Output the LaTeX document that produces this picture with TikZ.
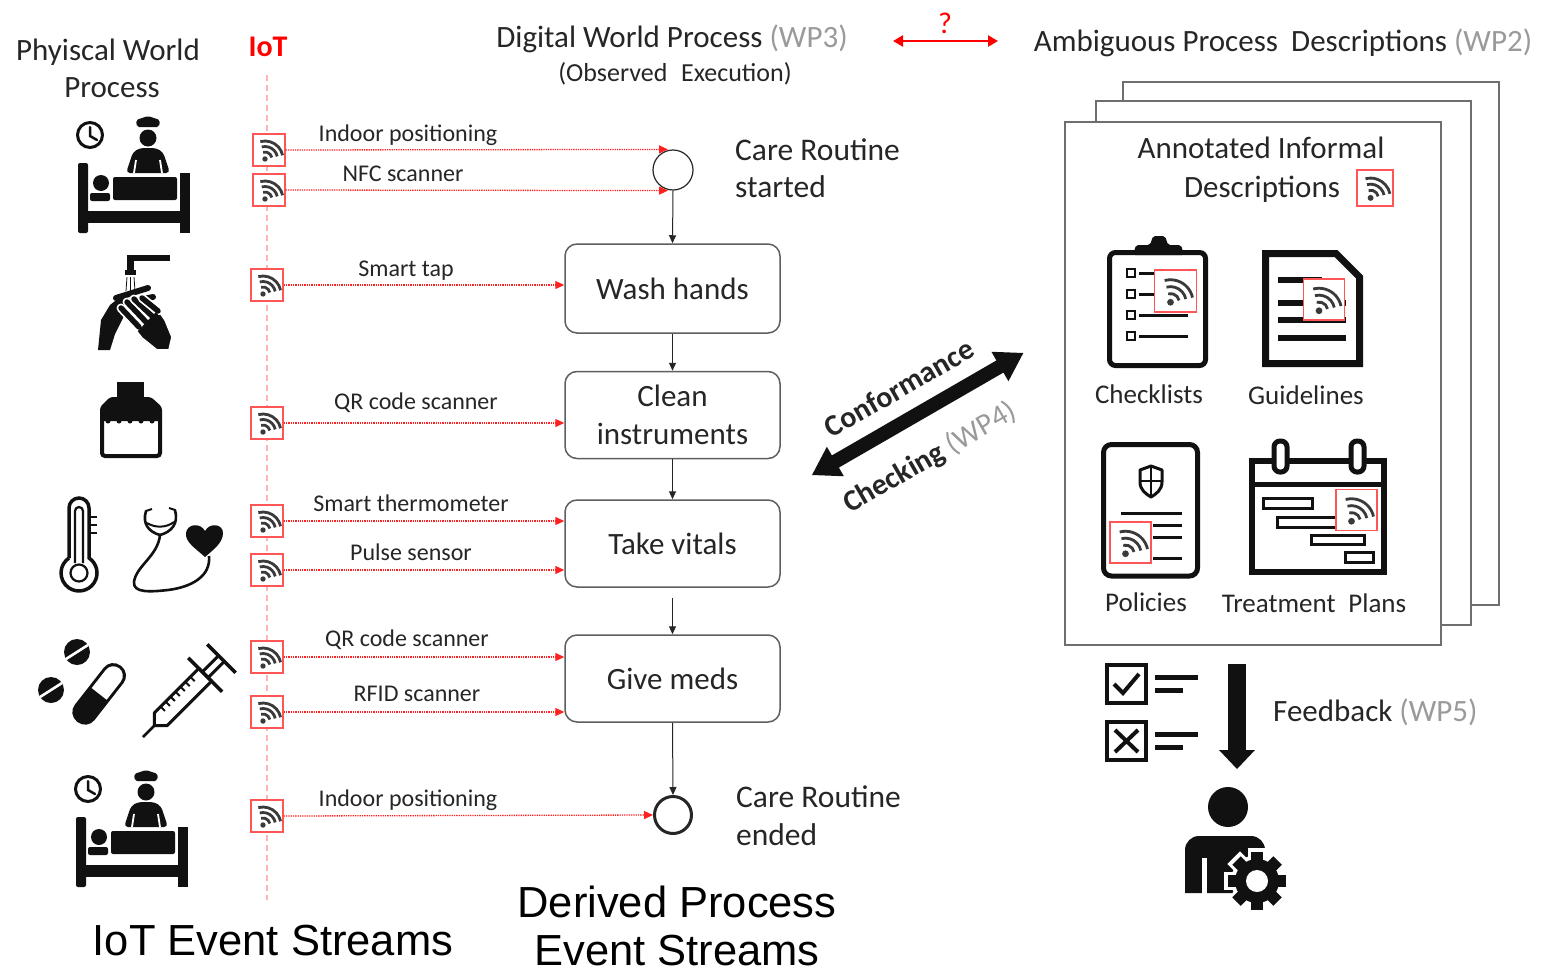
\documentclass[tikz,border=0pt]{standalone}
\usepackage{fontspec}
\setmainfont{Carlito}
\newfontfamily\arialfam{Liberation Sans}
\usetikzlibrary{arrows.meta,calc}

\definecolor{ink}{HTML}{262626}
\definecolor{wpgray}{HTML}{9A9A9A}
\definecolor{sred}{HTML}{FF5555}
\definecolor{ared}{HTML}{FF2020}
\definecolor{iotline}{HTML}{FFB4B4}
\definecolor{boxgray}{HTML}{5E5E5E}
\definecolor{pagegray}{HTML}{6E6E6E}
\definecolor{icon}{HTML}{111111}
\definecolor{wifigray}{HTML}{3A3A3A}

\tikzset{
  fs/.style={font=\fontsize{#1}{#1}\selectfont},
  lbl/.style={inner sep=0pt, text=ink, anchor=base},
  sensor/.style={draw=sred, line width=1.4pt, fill=white, minimum size=32pt, inner sep=0pt},
  task/.style={draw=boxgray, line width=1.5pt, rounded corners=12pt, minimum width=215pt,
    minimum height=87pt, align=center, text=ink, font=\fontsize{31}{38}\selectfont},
  event/.style={circle, draw=ink, minimum size=40pt, inner sep=0pt},
  sig/.style={ared, densely dotted, line width=1.3pt, -{Triangle[length=9pt,width=8pt]}},
  flow/.style={ink, line width=1pt, -{Triangle[length=8pt,width=7pt]}},
  page/.style={draw=pagegray, line width=1.5pt, fill=white},
  wifi/.pic={
    \fill[wifigray] (-4,9) circle (2.7);
    \foreach \r in {7,12.5,18}
      \draw[wifigray, line width=2.8pt, shift={(-4,9)}] (-12:\r) arc[start angle=-12, end angle=-105, radius=\r];
  },
  bedicon/.pic={
    % clock
    \draw[icon, line width=3pt] (90,135) circle (12.5);
    \draw[icon, line width=2.5pt, line cap=round] (90,127) -- (90,136) -- (97,140);
    % nurse
    \fill[icon, rounded corners=2pt] (137,127) -- (136,120) -- (148,116) -- (160,120) -- (159,127) -- cycle;
    \fill[icon] (148,138) circle (8.5);
    \fill[icon, rounded corners=4pt] (126,173) -- (133,152) -- (140,148) -- (156,148) -- (163,152) -- (170,173) -- cycle;
    \draw[white, line width=1.8pt] (136,160) -- (134,173) (160,160) -- (162,173);
    % bed and patient
    \fill[icon, rounded corners=2pt] (78,163) rectangle (88,233);
    \fill[icon] (180,173) rectangle (190,233);
    \fill[icon] (78,211) rectangle (190,223);
    \fill[icon, rounded corners=2pt] (113,177) rectangle (177,200);
    \fill[icon] (101,183) circle (8);
    \fill[icon, rounded corners=2pt] (90,193) rectangle (110,201);
  },
}

\newcommand\sensornode[3]{\node[sensor] (#1) at (#2,#3) {}; \pic at (#1) {wifi};}

\begin{document}
\begin{tikzpicture}[x=1pt,y=-1pt]
\fill[white] (0,0) rectangle (1551,972);
\useasboundingbox (0,0) rectangle (1551,972);

% ---------- headings ----------
\node[lbl, fs=31] (physA) at (108,60) {Phyiscal World};
\node[lbl, fs=31] (physB) at (112,97) {Process};
\node[lbl, text=red, font=\fontsize{30}{30}\selectfont\bfseries] (iot) at (268,56) {IoT};
\node[lbl, fs=31] (dwp) at (672,47) {Digital World Process \textcolor{wpgray}{(WP3)}};
\node[lbl, fs=26] (obs) at (675,81) {(Observed\hspace{0.3em} Execution)};
\node[lbl, fs=31] (amb) at (1283,51) {Ambiguous Process\hspace{0.2em} Descriptions \textcolor{wpgray}{(WP2)}};
\coordinate (qa) at (893,41);
\coordinate (qb) at (998,41);
\draw[red, line width=2.5pt, {Triangle[length=10pt,width=11pt]}-{Triangle[length=10pt,width=11pt]}] (qa) -- (qb);
\node[lbl, fs=30, text=red] (qm) at (945,33) {?};

% ---------- IoT lane ----------
\coordinate (iottop) at (267,75);
\coordinate (iotbot) at (267,900);
\draw[iotline, line width=1.2pt, dash pattern=on 6pt off 4pt] (iottop) -- (iotbot);

\sensornode{s1}{269}{150}
\sensornode{s2}{269}{190}
\sensornode{s3}{267}{285}
\sensornode{s4}{267}{423}
\sensornode{s5}{267}{521}
\sensornode{s6}{267}{570}
\sensornode{s7}{267}{657}
\sensornode{s8}{267}{712}
\sensornode{s9}{267}{816}

% ---------- derived process ----------
\node[event, line width=1.2pt] (start) at (673,170) {};
\node[task, minimum height=89pt] (wash) at (672.5,288.5) {Wash hands};
\node[task] (clean) at (672.5,415) {Clean\\instruments};
\node[task] (vitals) at (672.5,543.5) {Take vitals};
\node[task] (meds) at (672.5,678.5) {Give meds};
\node[event, line width=3pt, minimum size=37pt] (end) at (673,815) {};

\draw[flow] (start.south) -- (wash.north);
\draw[flow] (wash.south) -- (clean.north);
\draw[flow] (clean.south) -- (vitals.north);
\draw[flow] ([yshift=-10pt]vitals.south) -- (meds.north);
\draw[flow] (meds.south) -- (end.north);

\draw[sig] (s1.east) -- ([xshift=-5pt]start.north);
\draw[sig] (s2.east) -- ([xshift=-5pt]start.south);
\draw[sig] (s3.east) -- (s3.east -| wash.west);
\draw[sig] (s4.east) -- (s4.east -| clean.west);
\draw[sig] (s5.east) -- (s5.east -| vitals.west);
\draw[sig] (s6.east) -- (s6.east -| vitals.west);
\draw[sig] (s7.east) -- (s7.east -| meds.west);
\draw[sig] (s8.east) -- (s8.east -| meds.west);
\draw[sig] (s9.east) -- (end.west);

\node[lbl, fs=24] (l1) at (408,141) {Indoor positioning};
\node[lbl, fs=24] (l2) at (403,181) {NFC scanner};
\node[lbl, fs=24] (l3) at (406,276) {Smart tap};
\node[lbl, fs=24] (l4) at (416,409) {QR code scanner};
\node[lbl, fs=24] (l5) at (411,511) {Smart thermometer};
\node[lbl, fs=24] (l6) at (411,560) {Pulse sensor};
\node[lbl, fs=24] (l7) at (407,646) {QR code scanner};
\node[lbl, fs=24] (l8) at (417,701) {RFID scanner};
\node[lbl, fs=24] (l9) at (408,806) {Indoor positioning};

\node[lbl, fs=31.5, anchor=base west] (cra) at (735,160) {Care Routine};
\node[lbl, fs=31.5, anchor=base west] (crb) at (735,197) {started};
\node[lbl, fs=31.5, anchor=base west] (cea) at (736,807) {Care Routine};
\node[lbl, fs=31.5, anchor=base west] (ceb) at (736,845) {ended};

\node[lbl, text=black, font=\arialfam\fontsize{43.5}{43.5}\selectfont] (iotes) at (273,955) {IoT Event Streams};
\node[lbl, text=black, font=\arialfam\fontsize{43.5}{43.5}\selectfont] (dpa) at (677,917) {Derived Process};
\node[lbl, text=black, font=\arialfam\fontsize{43.5}{43.5}\selectfont] (dpb) at (677,965) {Event Streams};

% ---------- physical world icons ----------
\pic at (0,0) {bedicon};
\pic at (-2,654) {bedicon};

% hand washing: tap with running water
\fill[icon] (127,255) rectangle (170,261);
\fill[icon] (127,255) rectangle (134,271);
\fill[icon] (125,270) rectangle (136,275);
\draw[icon, line width=0.8pt] (127,277) -- (126,291) (130.5,277) -- (130.5,293) (134,277) -- (135,291);
% back hand, fingers to the right
\fill[icon] (98,350) -- (101,320) -- (110,305) -- (124,294) -- (131,300) -- (123,318) -- (115,334) -- (110,350) -- cycle;
\foreach \a/\b in {{(116,298)}/{(148,288)}, {(119,304)}/{(153,297)}, {(122,310)}/{(150,306)}}
  \draw[icon, line width=6pt, line cap=round] \a -- \b;
% front hand, fingers up to the left
\fill[icon, draw=white, line width=1.6pt] (134,328) -- (156,307) -- (165,320) -- (172,337) -- (169,350) -- (157,350) -- (142,338) -- cycle;
\foreach \a/\b in {{(121,308)}/{(139,327)}, {(127,302)}/{(146,322)}, {(134,299)}/{(152,316)}, {(142,298)}/{(158,311)}}
  {\draw[white, line width=9pt, line cap=round] \a -- \b;
   \draw[icon, line width=5.5pt, line cap=round] \a -- \b;}
\fill[icon] (138,331) -- (156,312) -- (164,322) -- (170,338) -- (167,348) -- (158,348) -- (144,337) -- cycle;

% bottle
\fill[icon] (117,382) rectangle (144,397);
\fill[icon, rounded corners=3pt] (100,421) -- (100,407) -- (110,397) -- (151,397) -- (162,407) -- (162,421) -- cycle;
\foreach \xx in {108,119,...,154} \fill[icon] (\xx,421) circle (2.5);
\draw[icon, line width=4pt, rounded corners=3pt] (102,418) -- (102,456) -- (160,456) -- (160,418);

% thermometer
\draw[icon, line width=3.5pt] (69,558) -- (69,508) arc[start angle=180, end angle=360, radius=10]
  -- (89,558) arc[start angle=-56.3, end angle=236.3, radius=18];
\draw[icon, line width=2.2pt] (75,563) -- (75,511) arc[start angle=180, end angle=360, radius=4] -- (83,563);
\draw[icon, line width=2.2pt] (79,573) circle (8.5);
\draw[icon, line width=2.5pt] (89,517) -- (97,517) (89,525) -- (97,525) (89,533) -- (97,533);

% stethoscope and heart
\draw[icon, line width=2.6pt, line cap=round] (146,511) .. controls (142,524) and (149,532) .. (160,535);
\draw[icon, line width=2.6pt, line cap=round] (175,510) .. controls (179,524) and (171,532) .. (160,535);
\draw[icon, line width=2pt] (146,511) -- (152,509) (175,510) -- (169,508);
\draw[icon, line width=2pt] (147,523) .. controls (155,528) and (166,528) .. (174,522);
\draw[icon, line width=2.6pt] (160,535) .. controls (158,556) and (136,566) .. (134,582)
  .. controls (133,593) and (150,592) .. (168,590) .. controls (192,587) and (211,576) .. (209,556);
\fill[icon] (205,557) .. controls (195,548) and (185,542) .. (186,533) .. controls (187,524) and (200,522) .. (205,531)
  .. controls (210,522) and (223,524) .. (223,533) .. controls (223,543) and (213,550) .. (205,557) -- cycle;

% pills
\fill[icon] (77,652) circle (13);
\draw[white, line width=2.6pt] (66,659) -- (88,645);
\fill[icon] (51,690) circle (13);
\draw[white, line width=2.6pt] (40,697) -- (62,683);
\begin{scope}[shift={(85,712)}, rotate=52]
  \fill[icon, rounded corners=12pt] (-12.5,-12.5) rectangle (58.5,12.5);
  \fill[white] (23,-9.5) -- (46,-9.5) arc[start angle=-90, end angle=90, radius=9.5] -- (23,9.5) -- cycle;
\end{scope}

% syringe
\begin{scope}[shift={(143,737)}, rotate=45]
  \draw[icon, line width=2.5pt] (0,0) -- (16,0);
  \draw[icon, line width=3pt, line join=round] (16,0) -- (25,-9) -- (88,-9) -- (88,9) -- (25,9) -- cycle;
  \foreach \t in {34,41,...,76} \draw[icon, line width=2pt] (\t,-9) -- (\t,-3);
  \draw[icon, line width=3.5pt] (88,-24) -- (88,24);
  \draw[icon, line width=3pt] (88,-4) -- (111,-4) (88,4) -- (111,4);
  \draw[icon, line width=3.5pt] (111,-20) -- (111,20);
\end{scope}

% ---------- conformance checking ----------
\begin{scope}[shift={(812,475)}, rotate=30]
  \fill[icon] (0,0) -- (27,-17) -- (27,-7) -- (217,-7) -- (217,-17) -- (244,0) -- (217,17)
    -- (217,7) -- (27,7) -- (27,17) -- cycle;
\end{scope}
\node[inner sep=0pt, text=ink, font=\fontsize{30}{30}\selectfont\bfseries, rotate=30] (conf) at (899,388) {Conformance};
\node[inner sep=0pt, text=ink, font=\fontsize{30}{30}\selectfont\bfseries, rotate=30] (chk) at (930,458) {Checking \textcolor{wpgray}{\mdseries(WP4)}};

% ---------- process descriptions ----------
\draw[page] (1123,82) rectangle (1499,605);
\draw[page] (1096,101) rectangle (1471,625);
\draw[page] (1065,122) rectangle (1441,645);

\node[lbl, fs=31] (anna) at (1261,158) {Annotated Informal};
\node[lbl, fs=31] (annb) at (1262,197) {Descriptions};
\node[sensor, minimum size=36pt, line width=1.3pt] (wdesc) at (1375,188) {};
\pic[scale=1.1] at (wdesc) {wifi};

% checklist
\draw[icon, line width=5pt, rounded corners=6pt] (1109.5,252.5) rectangle (1205.5,365.5);
\fill[icon, rounded corners=2pt] (1133,255) -- (1136,245) -- (1150,245) -- (1153,236) -- (1165,236) -- (1168,245) -- (1181,245) -- (1184,255) -- cycle;
\foreach \yy in {273,294,315,336} \draw[icon, line width=1.8pt] (1127,\yy-4) rectangle (1135,\yy+4);
\draw[icon, line width=3pt] (1139,273) -- (1156,273) (1139,294) -- (1156,294) (1139,315) -- (1188,315) (1139,336) -- (1188,336);
\node[sensor, minimum size=42pt, line width=1.2pt] (wchk) at (1175.5,291) {};
\pic[scale=1.25] at (wchk) {wifi};
\node[lbl, fs=27] (tchk) at (1149,403) {Checklists};

% guidelines
\draw[icon, line width=7pt, line join=miter] (1265.5,253.5) -- (1336,253.5) -- (1359.5,277) -- (1359.5,363.5) -- (1265.5,363.5) -- cycle;
\foreach \yy/\xe in {280/1322, 303/1346, 320/1346, 338/1346} \draw[icon, line width=6pt] (1278,\yy) -- (\xe,\yy);
\node[sensor, minimum size=41pt, line width=1.2pt] (wgui) at (1324,299.5) {};
\pic[scale=1.25] at (wgui) {wifi};
\node[lbl, fs=27] (tgui) at (1306,404) {Guidelines};

% policies
\draw[icon, line width=5pt, rounded corners=8pt] (1103.5,444.5) rectangle (1197.5,576);
\draw[icon, line width=3pt, line join=round] (1140,470) -- (1151,466) -- (1162,470) -- (1162,482)
  .. controls (1162,490) and (1156,494) .. (1151,497) .. controls (1146,494) and (1140,490) .. (1140,482) -- cycle;
\draw[icon, line width=2.5pt] (1151,467) -- (1151,496) (1140,481) -- (1162,481);
\draw[icon, line width=3pt] (1121,513) -- (1182,513) (1153,525) -- (1182,525) (1153,537) -- (1182,537) (1153,558) -- (1182,558);
\node[sensor, minimum size=41pt, line width=1.2pt] (wpol) at (1130.5,542.5) {};
\pic[scale=1.25] at (wpol) {wifi};
\node[lbl, fs=27] (tpol) at (1146,611) {Policies};

% treatment plans
\draw[icon, line width=6pt] (1252,461) rectangle (1384,572);
\draw[icon, line width=5pt] (1252,484) -- (1384,484);
\draw[icon, line width=5pt, fill=white, rounded corners=6pt] (1274,441) rectangle (1287,472);
\draw[icon, line width=5pt, fill=white, rounded corners=6pt] (1351,441) rectangle (1364,472);
\draw[icon, line width=3pt] (1263,498) rectangle (1312,508) (1277,517) rectangle (1337,527) (1311,535) rectangle (1364,544) (1345,552) rectangle (1373,562);
\node[sensor, minimum size=41pt, line width=1.2pt] (wtre) at (1356.5,510) {};
\pic[scale=1.25] at (wtre) {wifi};
\node[lbl, fs=27] (ttre) at (1314,612) {Treatment\hspace{0.25em} Plans};

% ---------- feedback ----------
\draw[icon, line width=4.5pt] (1107,665) rectangle (1146,703);
\draw[icon, line width=4pt] (1114,684) -- (1123,693) -- (1139,674);
\draw[icon, line width=5pt] (1155,677) -- (1198,677) (1155,690) -- (1183,690);
\draw[icon, line width=4.5pt] (1107,722) rectangle (1146,760);
\draw[icon, line width=4pt] (1115,730) -- (1138,752) (1138,730) -- (1115,752);
\draw[icon, line width=5pt] (1155,734) -- (1198,734) (1155,747) -- (1183,747);

\fill[icon] (1228,664) rectangle (1246,751);
\fill[icon] (1219,750) -- (1255,750) -- (1237,769) -- cycle;
\node[lbl, fs=31, anchor=base west] (fb) at (1273,721) {Feedback \textcolor{wpgray}{(WP5)}};

% user with gear
\fill[icon] (1228,807) circle (20);
\fill[icon] (1185,893) [rounded corners=14pt] -- (1185,836) -- (1265,836) [sharp corners] -- (1265,893) -- cycle;
\fill[white] (1202,858) rectangle (1207,894);
\begin{scope}[shift={(1257,881)}]
  \foreach \a in {0,45,...,315} \fill[white, rotate=\a] (-9,-33) rectangle (9,-16);
  \fill[white] (0,0) circle (26);
  \foreach \a in {0,45,...,315} \fill[icon, rotate=\a] (-6,-29) rectangle (6,-18);
  \fill[icon] (0,0) circle (22);
  \fill[white] (0,0) circle (11);
\end{scope}

\end{tikzpicture}
\end{document}
